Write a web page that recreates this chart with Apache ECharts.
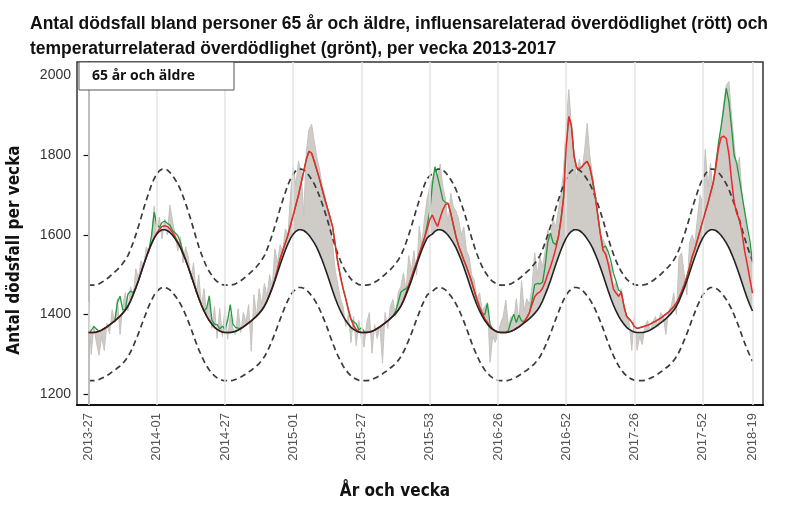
<!DOCTYPE html>
<html>
<head>
<meta charset="utf-8">
<script src="https://cdn.jsdelivr.net/npm/echarts@6/dist/echarts.min.js"></script>
<style>
html,body{margin:0;padding:0;background:#fff;}
#chart{width:788px;height:507px;}
</style>
</head>
<body>
<div id="chart"></div>
<script>
// ---- x-axis ticks (week index from 2013-27) ----
const tickIndex = [0, 26, 52, 78, 104, 130, 156, 182, 208, 234, 253];
const tickLabels = ['2013-27','2014-01','2014-27','2015-01','2015-27','2015-53','2016-26','2016-52','2017-26','2017-52','2018-19'];
const yTicks = [1200, 1400, 1600, 1800, 2000];

// ---- expected baseline (black), weekly 2013-27 .. 2018-19 ----
const baseline = [
 1355,1355,1355,1356,1358,1361,1365,1369,1374,1379,1384,1390,1396,1403,1411,1421,1434,1450,1467,1485,1505,1525,1544,1562,1578,1592,
 1602,1609,1613,1613,1611,1606,1599,1590,1580,1568,1553,1537,1519,1500,1480,1460,1441,1424,1409,1396,1385,1376,1368,1363,1359,1356,1355,1355,1355,1356,1358,1361,1365,1369,1374,1379,1384,1390,1396,1403,1411,1421,1434,1450,1467,1485,1505,1525,1544,1562,1578,1592,
 1602,1609,1613,1613,1611,1606,1599,1590,1580,1568,1553,1537,1519,1500,1480,1460,1441,1424,1409,1396,1385,1376,1368,1363,1359,1356,1355,1355,1355,1356,1358,1361,1365,1369,1374,1379,1384,1390,1396,1403,1411,1421,1434,1450,1467,1485,1505,1525,1544,1562,1578,1592,1598,
 1602,1609,1613,1613,1611,1606,1599,1590,1580,1568,1553,1537,1519,1500,1480,1460,1441,1424,1409,1396,1385,1376,1368,1363,1359,1356,1355,1355,1355,1356,1358,1361,1365,1369,1374,1379,1384,1390,1396,1403,1411,1421,1434,1450,1467,1485,1505,1525,1544,1562,1578,1592,
 1602,1609,1613,1613,1611,1606,1599,1590,1580,1568,1553,1537,1519,1500,1480,1460,1441,1424,1409,1396,1385,1376,1368,1363,1359,1356,1355,1355,1355,1356,1358,1361,1365,1369,1374,1379,1384,1390,1396,1403,1411,1421,1434,1450,1467,1485,1505,1525,1544,1562,1578,1592,
 1602,1609,1613,1613,1611,1606,1599,1590,1580,1568,1553,1537,1519,1500,1480,1460,1441,1424,1409
];

// ---- upper prediction bound (dashed) ----
const upper = [
 1474,1474,1474,1475,1477,1481,1485,1490,1495,1501,1507,1513,1520,1528,1537,1548,1563,1581,1600,1621,1643,1666,1687,1707,1726,1741,
 1753,1761,1765,1765,1763,1757,1749,1739,1728,1714,1697,1679,1659,1638,1615,1592,1571,1552,1535,1520,1508,1498,1489,1483,1479,1475,1474,1474,1474,1475,1477,1481,1485,1490,1495,1501,1507,1513,1520,1528,1537,1548,1563,1581,1600,1621,1643,1666,1687,1707,1726,1741,
 1753,1761,1765,1765,1763,1757,1749,1739,1728,1714,1697,1679,1659,1638,1615,1592,1571,1552,1535,1520,1508,1498,1489,1483,1479,1475,1474,1474,1474,1475,1477,1481,1485,1490,1495,1501,1507,1513,1520,1528,1537,1548,1563,1581,1600,1621,1643,1666,1687,1707,1726,1741,1748,
 1753,1761,1765,1765,1763,1757,1749,1739,1728,1714,1697,1679,1659,1638,1615,1592,1571,1552,1535,1520,1508,1498,1489,1483,1479,1475,1474,1474,1474,1475,1477,1481,1485,1490,1495,1501,1507,1513,1520,1528,1537,1548,1563,1581,1600,1621,1643,1666,1687,1707,1726,1741,
 1753,1761,1765,1765,1763,1757,1749,1739,1728,1714,1697,1679,1659,1638,1615,1592,1571,1552,1535,1520,1508,1498,1489,1483,1479,1475,1474,1474,1474,1475,1477,1481,1485,1490,1495,1501,1507,1513,1520,1528,1537,1548,1563,1581,1600,1621,1643,1666,1687,1707,1726,1741,
 1753,1761,1765,1765,1763,1757,1749,1739,1728,1714,1697,1679,1659,1638,1615,1592,1571,1552,1535
];

// ---- lower prediction bound (dashed) ----
const lower = [
 1234,1234,1234,1235,1237,1240,1243,1247,1251,1256,1260,1266,1271,1277,1285,1294,1306,1320,1336,1352,1370,1388,1405,1422,1436,1449,
 1458,1464,1468,1468,1466,1462,1455,1447,1438,1427,1414,1399,1383,1366,1347,1329,1312,1297,1283,1271,1261,1253,1246,1241,1238,1235,1234,1234,1234,1235,1237,1240,1243,1247,1251,1256,1260,1266,1271,1277,1285,1294,1306,1320,1336,1352,1370,1388,1405,1422,1436,1449,
 1458,1464,1468,1468,1466,1462,1455,1447,1438,1427,1414,1399,1383,1366,1347,1329,1312,1297,1283,1271,1261,1253,1246,1241,1238,1235,1234,1234,1234,1235,1237,1240,1243,1247,1251,1256,1260,1266,1271,1277,1285,1294,1306,1320,1336,1352,1370,1388,1405,1422,1436,1449,1454,
 1458,1464,1468,1468,1466,1462,1455,1447,1438,1427,1414,1399,1383,1366,1347,1329,1312,1297,1283,1271,1261,1253,1246,1241,1238,1235,1234,1234,1234,1235,1237,1240,1243,1247,1251,1256,1260,1266,1271,1277,1285,1294,1306,1320,1336,1352,1370,1388,1405,1422,1436,1449,
 1458,1464,1468,1468,1466,1462,1455,1447,1438,1427,1414,1399,1383,1366,1347,1329,1312,1297,1283,1271,1261,1253,1246,1241,1238,1235,1234,1234,1234,1235,1237,1240,1243,1247,1251,1256,1260,1266,1271,1277,1285,1294,1306,1320,1336,1352,1370,1388,1405,1422,1436,1449,
 1458,1464,1468,1468,1466,1462,1455,1447,1438,1427,1414,1399,1383,1366,1347,1329,1312,1297,1283
];

// ---- observed deaths (grey) ----
const observed = [
 1432,1300,1372,1330,1298,1345,1310,1378,1352,1412,1380,1440,1350,1420,1455,1410,1470,1445,1515,1490,1535,1520,1570,1555,1590,1672,
 1610,1645,1590,1640,1600,1675,1635,1600,1560,1595,1530,1570,1545,1490,1530,1455,1500,1420,1465,1400,1440,1365,1420,1340,1415,1345,1420,1338,1400,1365,1350,1415,1355,1405,1380,1425,1308,1450,1395,1465,1425,1478,1445,1500,1470,1565,1530,1575,1560,1615,1600,1705,
 1770,1725,1785,1760,1650,1810,1865,1878,1835,1795,1765,1725,1700,1665,1630,1575,1510,1475,1440,1420,1370,1400,1330,1395,1322,1385,1338,1318,1380,1405,1303,1375,1340,1372,1278,1405,1365,1420,1438,1395,1455,1470,1505,1460,1548,1510,1560,1500,1622,1575,1640,1690,1720,
 1740,1765,1745,1778,1720,1690,1625,1705,1670,1660,1640,1600,1620,1560,1545,1500,1485,1440,1455,1410,1420,1430,1280,1345,1330,1352,1378,1395,1436,1370,1395,1385,1440,1380,1485,1410,1440,1425,1470,1555,1500,1545,1520,1560,1612,1590,1640,1620,1660,1700,1760,1880,
 1965,1870,1800,1740,1790,1760,1810,1880,1800,1750,1700,1650,1600,1590,1575,1540,1520,1470,1480,1440,1465,1410,1400,1380,1310,1400,1310,1345,1325,1370,1385,1360,1380,1395,1370,1405,1395,1350,1410,1420,1455,1400,1545,1555,1500,1450,1580,1600,1580,1640,1700,1680,
 1815,1720,1780,1700,1790,1820,1870,1930,1975,1985,1900,1830,1760,1795,1700,1650,1600,1560,1530
];

// ---- influenza-related excess deaths (red line = baseline + this) ----
const fluExcess = [
 0,0,0,0,0,0,0,0,0,0, 0,0,0,0,0,0,0,0,0,0, 0,0,0,0,0,0,3,5,8,10,
 10,9,7,5,3,2,0,0,0,0, 0,0,0,0,0,0,0,0,0,0, 0,0,0,0,0,0,0,0,0,0,
 0,0,0,0,0,0,0,0,0,0, 0,3,8,15,16,18,22,33,48,66, 87,117,149,184,211,215,205,195,187,178,
 171,168,165,160,134,106,86,69,55,36, 20,9,3,1,0,0,0,0,0,0, 0,0,0,0,0,0,0,0,0,0,
 3,5,6,8,8,6,8,10,14,22, 40,48,25,8,30,52,70,80,65,45, 28,20,18,18,20,22,22,18,14,10,
 7,5,4,2,1,0,0,0,0,0, 0,0,0,0,0,0,3,8,15,30, 42,42,36,32,32,35,35,36,40,50,
 75,115,230,295,265,185,155,155,165,180, 195,190,170,147,115,85,62,72,68,55, 40,45,50,72,46,28,26,22,14,10,
 12,14,15,15,15,15,14,13,12,12, 11,10,10,9,8,8,8,8,10,14, 20,20,25,32,42,55,70,92,117,160,
 210,245,258,262,235,185,145,135,138,125, 100,85,65,45
];

// ---- temperature-related excess deaths (green line = red line + this) ----
const tempExcess = [
 0,5,15,8,0,0,0,0,0,0, 0,40,50,10,0,30,25,5,0,0, 0,0,0,0,20,65,20,5,10,12,
 8,10,5,10,15,12,5,0,0,0, 0,0,0,0,0,20,62,10,8,12, 5,15,8,30,70,20,10,5,0,0,
 0,0,0,0,0,0,0,0,0,0, 0,0,0,0,0,0,0,0,0,0, 0,0,0,0,0,0,0,0,0,0,
 0,0,0,0,0,0,0,0,0,0, 0,10,15,5,12,3,0,0,0,0, 0,0,0,0,0,0,0,5,20,35,
 25,10,0,0,0,0,0,0,0,10, 20,75,137,125,75,25,5,0,0,0, 0,0,0,0,0,0,0,0,0,0,
 0,10,48,5,0,0,0,0,0,0, 5,25,40,15,30,10,0,0,0,10, 30,25,20,15,40,80,85,40,10,0,
 0,0,0,0,0,0,0,0,0,0, 0,0,0,0,0,0,5,20,30,40, 40,30,15,0,0,0,0,0,0,0,
 0,0,0,0,0,0,0,0,0,0, 0,0,0,0,0,0,0,0,0,0, 0,0,0,0,0,0,0,0,0,0,
 14,26,67,126,132,132,118,126,102,95, 100,94,96,76
];

// ---- build series data ----
const pair = arr => arr.map((v, i) => [i, v]);
const redLine = baseline.map((v, i) => [i, v + fluExcess[i]]);
const greenLine = baseline.map((v, i) => [i, v + fluExcess[i] + tempExcess[i]]);

const chart = echarts.init(document.getElementById('chart'), null, {renderer: 'canvas'});
const FONT = "'Liberation Sans', Arial, sans-serif";
const NARROW = "'Liberation Sans Narrow', 'DejaVu Sans Condensed', 'Liberation Sans', sans-serif";

chart.setOption({
  animation: false,
  backgroundColor: '#ffffff',
  title: {
    text: 'Antal dödsfall bland personer 65 år och äldre, influensarelaterad överdödlighet (rött) och\ntemperaturrelaterad överdödlighet (grönt), per vecka 2013-2017',
    left: 25, top: 7,
    textStyle: {fontFamily: FONT, fontSize: 17.5, fontWeight: 'bold', color: '#111', lineHeight: 25}
  },
  grid: {left: 77, right: 25, top: 62, bottom: 102, show: true, borderColor: '#333', borderWidth: 1.5, backgroundColor: 'transparent'},
  xAxis: {
    type: 'value', min: -4.4, max: 257,
    axisLine: {show: true, onZero: false, lineStyle: {color: '#111', width: 2}},
    axisTick: {show: false},
    splitLine: {show: false},
    axisLabel: {
      customValues: tickIndex,
      rotate: 90, margin: 8, fontSize: 13, color: '#555', fontFamily: FONT,
      formatter: v => { const k = tickIndex.indexOf(Math.round(v)); return k >= 0 ? tickLabels[k] : ''; }
    }
  },
  yAxis: {
    type: 'value', min: 1173, max: 2034,
    axisLine: {show: true, lineStyle: {color: '#111', width: 1.5}},
    axisTick: {show: true, customValues: yTicks, length: 5, lineStyle: {color: '#111', width: 1.2}},
    splitLine: {show: false},
    axisLabel: {customValues: yTicks, fontSize: 14, color: '#333', margin: 6, fontFamily: FONT,
      formatter: v => String(v)}
  },
  graphic: [
    {type: 'rect', z: 100, shape: {x: 79, y: 62, width: 155, height: 28},
     style: {fill: '#fff', stroke: '#555', lineWidth: 1}},
    {type: 'text', z: 101, x: 92, y: 76,
     style: {text: '65 år och äldre', font: "bold 14px 'Open Sans', sans-serif", fill: '#111', textAlign: 'left', textVerticalAlign: 'middle'}},
    {type: 'text', z: 101, x: 395, y: 492,
     style: {text: 'År och vecka', font: "bold 17px " + NARROW, fill: '#111', textAlign: 'center', textVerticalAlign: 'middle'}},
    {type: 'text', z: 101, x: 15, y: 250, rotation: Math.PI / 2,
     style: {text: 'Antal dödsfall per vecka', font: "bold 17px " + NARROW, fill: '#111', textAlign: 'center', textVerticalAlign: 'middle'}}
  ],
  series: [
    {
      name: 'grid', type: 'line', data: [], z: 1, silent: true,
      markLine: {silent: true, symbol: 'none', label: {show: false},
        lineStyle: {color: '#e4e4e4', width: 1.5, type: 'solid'},
        data: tickIndex.map(i => ({xAxis: i}))}
    },
    {
      name: 'band', type: 'custom', z: 2, silent: true,
      data: [[0, baseline[0]]],
      encode: {x: 0, y: 1},
      renderItem: (params, api) => {
        const pts = [];
        for (let i = 0; i < observed.length; i++) pts.push(api.coord([i, observed[i]]));
        for (let i = baseline.length - 1; i >= 0; i--) pts.push(api.coord([i, baseline[i]]));
        return {type: 'polygon', shape: {points: pts}, style: {fill: '#cfcbc7', stroke: null}};
      }
    },
    {
      name: 'observed', type: 'line', data: pair(observed), symbol: 'none', z: 2, silent: true,
      lineStyle: {color: '#c6c2be', width: 1}
    },
    {
      name: 'upper', type: 'line', data: pair(upper), symbol: 'none', z: 3,
      lineStyle: {color: '#3a3a3a', width: 1.7, type: [6, 4]}
    },
    {
      name: 'lower', type: 'line', data: pair(lower), symbol: 'none', z: 3,
      lineStyle: {color: '#3a3a3a', width: 1.7, type: [6, 4]}
    },
    {
      name: 'temp', type: 'line', data: greenLine, symbol: 'none', z: 4,
      lineStyle: {color: '#1f9a3e', width: 1.3}
    },
    {
      name: 'flu', type: 'line', data: redLine, symbol: 'none', z: 5,
      lineStyle: {color: '#ea2a2a', width: 1.5}
    },
    {
      name: 'baseline', type: 'line', data: pair(baseline), symbol: 'none', z: 6,
      lineStyle: {color: '#222', width: 1.6}
    }
  ]
});
</script>
</body>
</html>
